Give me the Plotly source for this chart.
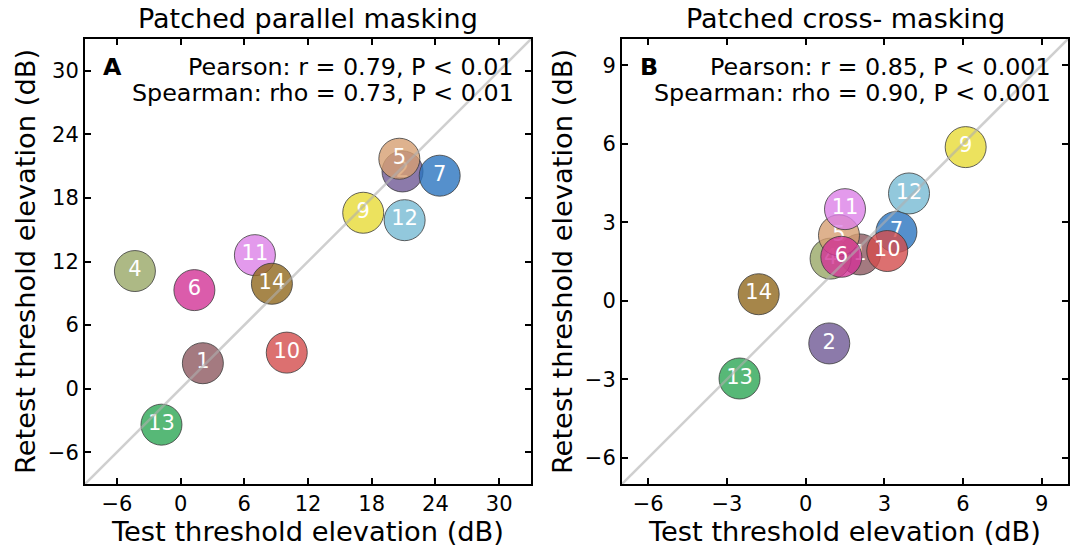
import plotly.graph_objects as go

subjects = ["1", "2", "4", "5", "6", "7", "9", "10", "11", "12", "13", "14"]
colors = ["#8d5960", "#6f5995", "#98a766", "#d69f72", "#d23396", "#2a74bf",
          "#e7db36", "#d34c4c", "#dc81e7", "#77bad3", "#2da655", "#90681d"]

# Panel A: patched parallel masking
test_A = [2.1, 20.9, -4.3, 20.6, 1.3, 24.4, 17.2, 10.0, 7.0, 21.1, -1.8, 8.6]
retest_A = [2.4, 20.5, 11.1, 21.7, 9.3, 20.1, 16.6, 3.4, 12.6, 15.9, -3.4, 9.9]

# Panel B: patched cross- masking
test_B = [2.07, 0.9, 0.95, 1.27, 1.36, 3.46, 6.1, 3.11, 1.5, 3.94, -2.52, -1.79]
retest_B = [1.77, -1.63, 1.61, 2.5, 1.68, 2.63, 5.87, 1.9, 3.5, 4.1, -2.97, 0.25]

range_A = [-9, 33]
ticks_A = [-6, 0, 6, 12, 18, 24, 30]
range_B = [-7, 10]
ticks_B = [-6, -3, 0, 3, 6, 9]

titles = ["Patched parallel masking", "Patched cross- masking"]
letters = ["A", "B"]
pearson = ["Pearson: r = 0.79, P < 0.01", "Pearson: r = 0.85, P < 0.001"]
spearman = ["Spearman: rho = 0.73, P < 0.01", "Spearman: rho = 0.90, P < 0.001"]


def rgba(hexc, a):
    h = hexc.lstrip("#")
    r, g, b = int(h[0:2], 16), int(h[2:4], 16), int(h[4:6], 16)
    return f"rgba({r},{g},{b},{a})"


FONT = "DejaVu Sans"
fig = go.Figure()

panels = [(test_A, retest_A, range_A, ticks_A, "x", "y"),
          (test_B, retest_B, range_B, ticks_B, "x2", "y2")]

for (xs, ys, rng, tks, xa, ya) in panels:
    for s, c, xv, yv in zip(subjects, colors, xs, ys):
        fig.add_trace(go.Scatter(
            x=[xv], y=[yv], text=[s], mode="markers+text",
            xaxis=xa, yaxis=ya, showlegend=False,
            marker=dict(size=41, color=rgba(c, 0.8),
                        line=dict(color="rgba(60,60,60,0.8)", width=1)),
            textposition="middle center",
            textfont=dict(family=FONT, size=21, color="white"),
            cliponaxis=False,
        ))
    fig.add_trace(go.Scatter(
        x=rng, y=rng, mode="lines", xaxis=xa, yaxis=ya, showlegend=False,
        line=dict(color="rgba(175,175,175,0.6)", width=2.5),
    ))

dom_A = [85 / 1073, 531 / 1073]
dom_B = [622 / 1073, 1068 / 1073]
dom_y = [1 - 484 / 547, 1 - 39 / 547]

axis_common = dict(
    showgrid=False, zeroline=False, showline=True, linecolor="black",
    linewidth=2, mirror="ticks", ticks="inside", ticklen=6, tickwidth=1.5,
    tickcolor="black", tickfont=dict(family=FONT, size=21, color="black"),
    automargin=False,
)

xlabel = "Test threshold elevation (dB)"
ylabel = "Retest threshold elevation (dB)"
label_font = dict(family=FONT, size=27.3, color="black")
title_font = dict(family=FONT, size=27, color="black")
note_font = dict(family=FONT, size=23.8, color="black")

fig.update_layout(
    width=1073, height=547,
    margin=dict(l=0, r=0, t=0, b=0),
    paper_bgcolor="white", plot_bgcolor="white",
    xaxis=dict(domain=dom_A, range=range_A, tickvals=ticks_A, anchor="y",
               title=dict(text=xlabel, font=label_font, standoff=6), **axis_common),
    yaxis=dict(domain=dom_y, range=range_A, tickvals=ticks_A, anchor="x",
               title=dict(text=ylabel, font=label_font, standoff=4), **axis_common),
    xaxis2=dict(domain=dom_B, range=range_B, tickvals=ticks_B, anchor="y2",
                title=dict(text=xlabel, font=label_font, standoff=6), **axis_common),
    yaxis2=dict(domain=dom_y, range=range_B, tickvals=ticks_B, anchor="x2",
                title=dict(text=ylabel, font=label_font, standoff=4), **axis_common),
)

for i, (xa, dom) in enumerate([("x", dom_A), ("x2", dom_B)]):
    suffix = "" if i == 0 else "2"
    fig.add_annotation(text=titles[i], xref="paper", yref="paper",
                       x=(dom[0] + dom[1]) / 2, y=1 - 18 / 547,
                       xanchor="center", yanchor="middle", showarrow=False,
                       font=title_font)
    fig.add_annotation(text="<b>" + letters[i] + "</b>",
                       xref=f"x{suffix} domain", yref=f"y{suffix} domain",
                       x=0.036, y=1 - 28 / 445, xanchor="left", yanchor="middle",
                       showarrow=False, font=note_font)
    fig.add_annotation(text=pearson[i],
                       xref=f"x{suffix} domain", yref=f"y{suffix} domain",
                       x=0.966, y=1 - 28 / 445, xanchor="right", yanchor="middle",
                       showarrow=False, font=note_font)
    fig.add_annotation(text=spearman[i],
                       xref=f"x{suffix} domain", yref=f"y{suffix} domain",
                       x=0.966, y=1 - 54 / 445, xanchor="right", yanchor="middle",
                       showarrow=False, font=note_font)

fig.write_html(
    "out.html",
    config={"displayModeBar": False},
    post_script="document.body.style.margin='0';document.body.style.overflow='hidden';",
)
